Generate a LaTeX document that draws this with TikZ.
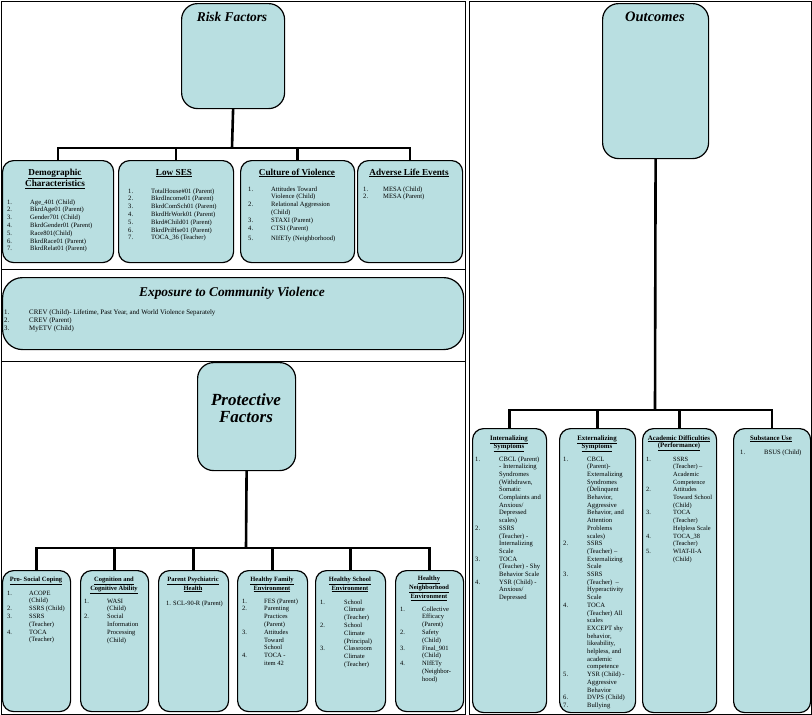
\documentclass[tikz,border=0pt]{standalone}
\usepackage{fontspec}
\setmainfont{Liberation Serif}
\definecolor{boxfill}{RGB}{185,223,225}
\tikzset{
  panel/.style={draw=black, line width=1pt},
  bx/.style={draw=black, line width=1.2pt, fill=boxfill, rounded corners=11pt, inner sep=0pt, anchor=north west},
  conn/.style={draw=black, line width=2.6pt},
  bigttl/.style={inner sep=0pt, anchor=base, font=\fontsize{13.4}{16}\selectfont\bfseries\itshape},
  ttlA/.style={inner sep=0pt, anchor=base, font=\fontsize{9.2}{11}\selectfont\bfseries},
  ttlB/.style={inner sep=0pt, anchor=base, font=\fontsize{6.5}{8.2}\selectfont\bfseries},
  ttlC/.style={inner sep=0pt, anchor=base, font=\fontsize{6.8}{7.6}\selectfont\bfseries},
  lstA/.style={inner sep=0pt, anchor=base west, font=\fontsize{6.6}{7.8}\selectfont},
  lstB/.style={inner sep=0pt, anchor=base west, font=\fontsize{6.5}{7.8}\selectfont},
  lstC/.style={inner sep=0pt, anchor=base west, font=\fontsize{6.6}{7.7}\selectfont}
}
\newcommand{\ul}[1]{\underline{#1}}
\begin{document}
\begin{tikzpicture}[x=1pt,y=-1pt]
\useasboundingbox (0,0) rectangle (812,715);
% panels
\draw[panel] (1,1) rectangle (465,714);
\draw[panel] (1,269) -- (465,269);
\draw[panel] (1,361) -- (465,361);
\draw[panel] (469,1) rectangle (811,714);

% ---------------- Risk factors ----------------
\node[bx, rounded corners=16pt, minimum width=103, minimum height=105] (risk) at (181,3) {};
\node[bigttl] (riskT) at (232,21) {Risk Factors};

\node[bx, minimum width=111, minimum height=102] (demo) at (2,160) {};
\node[bx, minimum width=115, minimum height=102] (lses) at (118,160) {};
\node[bx, minimum width=114, minimum height=102] (cult) at (240,160) {};
\node[bx, minimum width=105, minimum height=102] (adv) at (357,160) {};

\coordinate (rj) at (232,148);
\draw[conn] (risk.south) -- (rj);
\draw[conn] (demo.north) |- (adv.north |- rj) -- (adv.north);
\draw[conn] (lses.north) -- (lses.north |- rj);
\draw[conn] (cult.north) -- (cult.north |- rj);

\node[ttlA] (demoT) at (55,175) {\begin{tabular}[t]{@{}c@{}}\ul{Demographic}\\\ul{Characteristics}\end{tabular}};
\node[lstA] (demoL) at (7,204) {\begin{tabular}[t]{@{}p{23pt}@{}l@{}}
1.&Age\_401 (Child)\\
2.&BkrdAge01 (Parent)\\
3.&Gender701 (Child)\\
4.&BkrdGender01 (Parent)\\
5.&Race801(Child)\\
6.&BkrdRace01 (Parent)\\
7.&BkrdRelat01 (Parent)\end{tabular}};

\node[ttlA] (lsesT) at (174,175) {\ul{Low SES}};
\node[lstA] (lsesL) at (128,193) {\begin{tabular}[t]{@{}p{23pt}@{}l@{}}
1.&TotalHouse\#01 (Parent)\\
2.&BkrdIncome01 (Parent)\\
3.&BkrdComSch01 (Parent)\\
4.&BkrdHrWork01 (Parent)\\
5.&Bkrd\#Child01 (Parent)\\
6.&BkrdPriHse01 (Parent)\\
7.&TOCA\_36 (Teacher)\end{tabular}};

\node[ttlA] (cultT) at (297,175) {\ul{Culture of Violence}};
\node[lstA] (cultL) at (248,191) {\begin{tabular}[t]{@{}p{23pt}@{}l@{}}
1.&Attitudes Toward\\
&Violence (Child)\\
2.&Relational Aggression\\
&(Child)\\
3.&STAXI (Parent)\\
4.&CTSI (Parent)\\[2.5pt]
5.&NIfETy (Neighborhood)\end{tabular}};

\node[ttlA] (advT) at (409,175) {\ul{Adverse Life Events}};
\node[lstA] (advL) at (363,191) {\begin{tabular}[t]{@{}p{20pt}@{}l@{}}
1.&MESA (Child)\\
2.&MESA (Parent)\end{tabular}};

% ---------------- Exposure ----------------
\node[bx, rounded corners=20pt, minimum width=461, minimum height=72] (expo) at (2,277) {};
\node[bigttl] (expoT) at (232,296) {Exposure to Community Violence};
\node[lstA, font=\fontsize{6.9}{8}\selectfont] (expoL) at (4,314) {\begin{tabular}[t]{@{}p{25pt}@{}l@{}}
1.&CREV (Child)- Lifetime, Past Year, and World Violence Separately\\
2.&CREV (Parent)\\
3.&MyETV (Child)\end{tabular}};

% ---------------- Protective ----------------
\node[bx, rounded corners=16pt, minimum width=98, minimum height=108] (prot) at (197,362) {};
\node[bigttl, font=\fontsize{17}{17}\selectfont\bfseries\itshape] (protT) at (246,405) {\begin{tabular}[t]{@{}c@{}}Protective\\Factors\end{tabular}};

\node[bx, minimum width=68, minimum height=141] (psc) at (2,570) {};
\node[bx, minimum width=68, minimum height=141] (cog) at (80,570) {};
\node[bx, minimum width=70, minimum height=141] (pph) at (158,570) {};
\node[bx, minimum width=70, minimum height=141] (hfe) at (237,570) {};
\node[bx, minimum width=70, minimum height=141] (hse) at (315,570) {};
\node[bx, minimum width=68, minimum height=141] (hne) at (395,570) {};

\coordinate (pj) at (246,548);
\draw[conn] (prot.south) -- (pj);
\draw[conn] (psc.north) |- (hne.north |- pj) -- (hne.north);
\draw[conn] (cog.north) -- (cog.north |- pj);
\draw[conn] (pph.north) -- (pph.north |- pj);
\draw[conn] (hfe.north) -- (hfe.north |- pj);
\draw[conn] (hse.north) -- (hse.north |- pj);

\node[ttlB] (pscT) at (36,581) {\ul{Pro- Social Coping}};
\node[lstB] (pscL) at (7,595) {\begin{tabular}[t]{@{}p{22pt}@{}l@{}}
1.&ACOPE\\
&(Child)\\
2.&SSRS (Child)\\
3.&SSRS\\
&(Teacher)\\
4.&TOCA\\
&(Teacher)\end{tabular}};

\node[ttlB] (cogT) at (114,581) {\begin{tabular}[t]{@{}c@{}}\ul{Cognition and}\\\ul{Cognitive Ability}\end{tabular}};
\node[lstB] (cogL) at (84,603) {\begin{tabular}[t]{@{}p{23pt}@{}l@{}}
1.&WASI\\
&(Child)\\
2.&Social\\
&Information\\
&Processing\\
&(Child)\end{tabular}};

\node[ttlB] (pphT) at (193,581) {\begin{tabular}[t]{@{}c@{}}\ul{Parent Psychiatric}\\\ul{Health}\end{tabular}};
\node[lstB] (pphL) at (166,605) {1. SCL-90-R (Parent)};

\node[ttlB] (hfeT) at (272,581) {\begin{tabular}[t]{@{}c@{}}\ul{Healthy Family}\\\ul{Environment}\end{tabular}};
\node[lstB] (hfeL) at (242,603) {\begin{tabular}[t]{@{}p{22pt}@{}l@{}}
1.&FES (Parent)\\
2.&Parenting\\
&Practices\\
&(Parent)\\
3.&Attitudes\\
&Toward\\
&School\\
4.&TOCA -\\
&item 42\end{tabular}};

\node[ttlB] (hseT) at (350,581) {\begin{tabular}[t]{@{}c@{}}\ul{Healthy School}\\\ul{Environment}\end{tabular}};
\node[lstB] (hseL) at (320,604) {\begin{tabular}[t]{@{}p{24pt}@{}l@{}}
1.&School\\
&Climate\\
&(Teacher)\\
2.&School\\
&Climate\\
&(Principal)\\
3.&Classroom\\
&Climate\\
&(Teacher)\end{tabular}};

\node[ttlB] (hneT) at (429,580) {\begin{tabular}[t]{@{}c@{}}\ul{Healthy}\\\ul{Neighborhood}\\\ul{Environment}\end{tabular}};
\node[lstB] (hneL) at (400,611) {\begin{tabular}[t]{@{}p{22pt}@{}l@{}}
1.&Collective\\
&Efficacy\\
&(Parent)\\
2.&Safety\\
&(Child)\\
3.&Final\_901\\
&(Child)\\
4.&NIfETy\\
&(Neighbor-\\
&hood)\end{tabular}};

% ---------------- Outcomes ----------------
\node[bx, rounded corners=16pt, minimum width=106, minimum height=155] (outc) at (602,3) {};
\node[bigttl, font=\fontsize{14.5}{16}\selectfont\bfseries\itshape] (outcT) at (655,21) {Outcomes};

\node[bx, minimum width=74, minimum height=284] (intr) at (472,428) {};
\node[bx, minimum width=76, minimum height=284] (extr) at (559,428) {};
\node[bx, minimum width=74, minimum height=284] (acad) at (642,428) {};
\node[bx, minimum width=77, minimum height=284] (subs) at (733,428) {};

\coordinate (oj) at (655,410);
\draw[conn] (outc.south) -- (oj);
\draw[conn] (intr.north) |- (subs.north |- oj) -- (subs.north);
\draw[conn] (extr.north) -- (extr.north |- oj);
\draw[conn] (acad.north) -- (acad.north |- oj);

\node[ttlC] (intrT) at (509,440) {\begin{tabular}[t]{@{}c@{}}\ul{Internalizing}\\\ul{Symptoms}\end{tabular}};
\node[lstC] (intrL) at (475,461) {\begin{tabular}[t]{@{}p{24pt}@{}l@{}}
1.&CBCL (Parent)\\
&- Internalizing\\
&Syndromes\\
&(Withdrawn,\\
&Somatic\\
&Complaints and\\
&Anxious/\\
&Depressed\\
&scales)\\
2.&SSRS\\
&(Teacher) -\\
&Internalizing\\
&Scale\\
3.&TOCA\\
&(Teacher) - Shy\\
&Behavior Scale\\
4.&YSR (Child) -\\
&Anxious/\\
&Depressed\end{tabular}};

\node[ttlC] (extrT) at (597,440) {\begin{tabular}[t]{@{}c@{}}\ul{Externalizing}\\\ul{Symptoms}\end{tabular}};
\node[lstC] (extrL) at (563,461) {\begin{tabular}[t]{@{}p{24pt}@{}l@{}}
1.&CBCL\\
&(Parent)-\\
&Externalizing\\
&Syndromes\\
&(Delinquent\\
&Behavior,\\
&Aggressive\\
&Behavior, and\\
&Attention\\
&Problems\\
&scales)\\
2.&SSRS\\
&(Teacher) --\\
&Externalizing\\
&Scale\\
3.&SSRS\\
&(Teacher) \ --\\
&Hyperactivity\\
&Scale\\
4.&TOCA\\
&(Teacher) All\\
&scales\\
&EXCEPT shy\\
&behavior,\\
&likeability,\\
&helpless, and\\
&academic\\
&competence\\
5.&YSR (Child) -\\
&Aggressive\\
&Behavior\\
6.&DVPS (Child)\\
7.&Bullying\end{tabular}};

\node[ttlC] (acadT) at (679,440) {\begin{tabular}[t]{@{}c@{}}\ul{Academic Difficulties}\\\ul{(Performance)}\end{tabular}};
\node[lstC, font=\fontsize{6.4}{7.7}\selectfont] (acadL) at (646,461) {\begin{tabular}[t]{@{}p{27pt}@{}l@{}}
1.&SSRS\\
&(Teacher) --\\
&Academic\\
&Competence\\
2.&Attitudes\\
&Toward School\\
&(Child)\\
3.&TOCA\\
&(Teacher)\\
&Helpless Scale\\
4.&TOCA\_38\\
&(Teacher)\\
5.&WIAT-II-A\\
&(Child)\end{tabular}};

\node[ttlC] (subsT) at (771,440) {\ul{Substance Use}};
\node[lstC] (subsL) at (740,454) {\begin{tabular}[t]{@{}p{24pt}@{}l@{}}
1.&BSUS (Child)\end{tabular}};
\end{tikzpicture}
\end{document}
